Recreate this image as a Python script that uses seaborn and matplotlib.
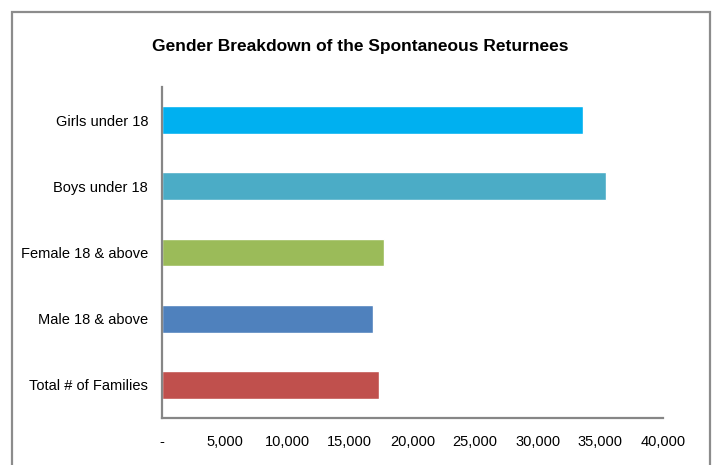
import matplotlib
matplotlib.use("Agg")

import numpy as np
import pandas as pd

import matplotlib.pyplot as plt
from matplotlib.patches import Rectangle
from matplotlib.ticker import FuncFormatter
import seaborn as sns

# =====================================================
# DATA
# =====================================================
categories = [
    "Girls under 18",
    "Boys under 18",
    "Female 18 & above",
    "Male 18 & above",
    "Total # of Families"
]

returnees = [33600, 35450, 17700, 16850, 17300]

bar_colors = ["#00B0F0", "#4BACC6", "#9BBB59", "#4F81BD", "#C0504D"]

x_ticks = [0, 5000, 10000, 15000, 20000, 25000, 30000, 35000, 40000]

title = "Gender Breakdown of the Spontaneous Returnees"

# =====================================================
# STYLE
# =====================================================
sns.set_style("white")

plt.rcParams.update({
    "font.family": ["Liberation Sans", "DejaVu Sans"],
    "font.size": 10.5,
    "text.color": "#000000",
    "axes.unicode_minus": False,
})

df = pd.DataFrame({
    "Category": categories,
    "Returnees": returnees
})

# =====================================================
# FIGURE
# =====================================================
fig = plt.figure(figsize=(7.13, 4.65), dpi=100)

ax = fig.add_axes([162 / 713, 47 / 465, 501 / 713, 331 / 465])

sns.barplot(
    data=df,
    x="Returnees",
    y="Category",
    hue="Category",
    palette=bar_colors,
    orient="h",
    width=0.42,
    legend=False,
    saturation=1,
    ax=ax
)

ax.set_xlim(0, 40000)
ax.set_ylim(4.5, -0.5)
ax.set_xticks(x_ticks)
ax.xaxis.set_major_formatter(
    FuncFormatter(lambda v, p: "-" if v == 0 else f"{int(v):,}")
)

ax.set_xlabel("")
ax.set_ylabel("")

ax.tick_params(axis="both", length=0, labelsize=10.5, colors="#000000")
ax.tick_params(axis="x", pad=12)
ax.tick_params(axis="y", pad=10)

for side in ["top", "right"]:
    ax.spines[side].set_visible(False)
for side in ["left", "bottom"]:
    ax.spines[side].set_color("#868686")
    ax.spines[side].set_linewidth(1.6)

# =====================================================
# TITLE + BORDER
# =====================================================
fig.text(
    360 / 713, 1 - 46 / 465,
    title,
    ha="center",
    va="center",
    fontsize=12.5,
    fontweight="bold",
    color="#000000"
)

fig.patches.append(
    Rectangle(
        (12 / 713, -0.05),
        698 / 713,
        1.05 - 12 / 465,
        transform=fig.transFigure,
        fill=False,
        edgecolor="#8c8c8c",
        linewidth=1.6
    )
)

plt.savefig("out.png", dpi=100)
plt.close()
